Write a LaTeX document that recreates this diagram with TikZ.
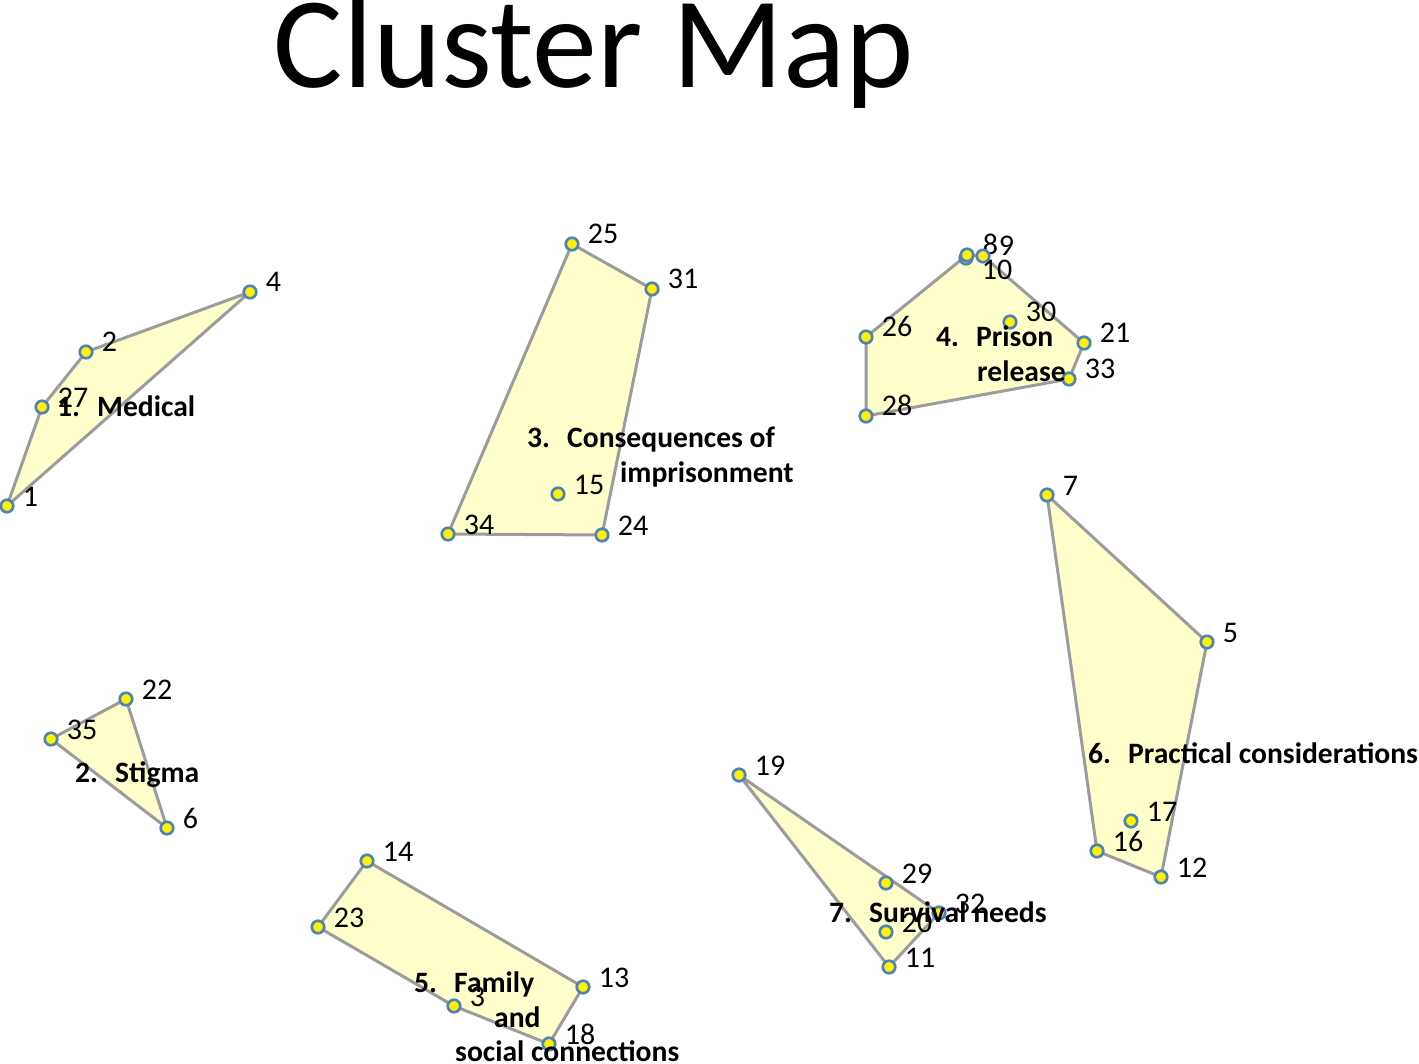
\documentclass[tikz,border=0pt]{standalone}
\usepackage{fontspec}
\setmainfont{Carlito}
\usetikzlibrary{positioning,backgrounds}
\definecolor{ptblue}{HTML}{4F81BD}
\definecolor{hullfill}{HTML}{FFFFCC}
\definecolor{hullline}{HTML}{9C9C9C}
\tikzset{
	pt/.style={circle, draw=ptblue, fill=yellow, line width=2.7pt, minimum size=12.5pt, inner sep=0pt},
	num/.style={anchor=base west, inner sep=0pt, xshift=8pt, font=\fontsize{30}{32}\selectfont},
	clab/.style={anchor=base west, inner sep=0pt, font=\bfseries\fontsize{29.6}{35}\selectfont},
	hull/.style={draw=hullline, fill=hullfill, line width=3pt, line join=round},
	title/.style={anchor=base, inner sep=0pt, font=\fontsize{130}{134}\selectfont}
}
\newcommand{\clnum}[1]{\makebox[40pt][l]{#1}}

\begin{document}
\begin{tikzpicture}[x=1pt, y=-1pt]
	\useasboundingbox (0,0) rectangle (1419,1064);
	\node[title] (title) at (594,88) {Cluster Map};

	% 1. Medical
	\node[pt, label={[num]right:1}] (p1) at (7,506) {};
	\node[pt, label={[num]right:27}] (p27) at (42,407) {};
	\node[pt, label={[num]right:2}] (p2) at (86,352) {};
	\node[pt, label={[num]right:4}] (p4) at (250,292) {};
	\node[clab] (c1) at (57,417) {\clnum{1.}Medical};

	% 2. Stigma
	\node[pt, label={[num]right:22}] (p22) at (126,699) {};
	\node[pt, label={[num]right:35}] (p35) at (51,739) {};
	\node[pt, label={[num]right:6}] (p6) at (167,828) {};
	\node[clab] (c2) at (75,782) {\clnum{2.}Stigma};

	% 3. Consequences of imprisonment
	\node[pt, label={[num]right:25}] (p25) at (572,244) {};
	\node[pt, label={[num]right:31}] (p31) at (652,289) {};
	\node[pt, label={[num]right:24}] (p24) at (602,535) {};
	\node[pt, label={[num]right:34}] (p34) at (448,534) {};
	\node[pt, label={[num]right:15}] (p15) at (558,494) {};
	\node[clab] (c3) at (527,447) {\clnum{3.}Consequences of};
	\node[clab] (c3b) at (620,482) {imprisonment};

	% 4. Prison release
	\node[pt, label={[num, yshift=-22pt]right:10}] (p10) at (966,258) {};
	\node[pt, label={[num]right:8}] (p8) at (967,255) {};
	\node[pt, label={[num]right:9}] (p9) at (983,256) {};
	\node[pt, label={[num]right:26}] (p26) at (866,337) {};
	\node[pt, label={[num]right:28}] (p28) at (866,416) {};
	\node[pt, label={[num]right:30}] (p30) at (1010,322) {};
	\node[pt, label={[num]right:21}] (p21) at (1084,343) {};
	\node[pt, label={[num]right:33}] (p33) at (1069,379) {};
	\node[clab] (c4) at (936,347) {\clnum{4.}Prison};
	\node[clab] (c4b) at (977,382) {release};

	% 5. Family and social connections
	\node[pt, label={[num]right:14}] (p14) at (367,861) {};
	\node[pt, label={[num]right:23}] (p23) at (318,927) {};
	\node[pt, label={[num]right:3}] (p3) at (454,1006) {};
	\node[pt, label={[num]right:18}] (p18) at (549,1044) {};
	\node[pt, label={[num]right:13}] (p13) at (583,987) {};
	\node[clab] (c5) at (414,992) {\clnum{5.}Family};
	\node[clab] (c5b) at (494,1027) {and};
	\node[clab] (c5c) at (455,1061) {social connections};

	% 6. Practical considerations
	\node[pt, label={[num]right:7}] (p7) at (1047,495) {};
	\node[pt, label={[num]right:5}] (p5) at (1207,642) {};
	\node[pt, label={[num]right:12}] (p12) at (1161,877) {};
	\node[pt, label={[num]right:16}] (p16) at (1097,851) {};
	\node[pt, label={[num]right:17}] (p17) at (1131,821) {};
	\node[clab] (c6) at (1088,763) {\clnum{6.}Practical considerations};

	% 7. Survival needs
	\node[pt, label={[num]right:19}] (p19) at (739,775) {};
	\node[pt, label={[num]right:29}] (p29) at (886,883) {};
	\node[pt, label={[num]right:32}] (p32) at (939,913) {};
	\node[pt, label={[num]right:20}] (p20) at (886,932) {};
	\node[pt, label={[num]right:11}] (p11) at (889,967) {};
	\node[clab] (c7) at (829,922) {\clnum{7.}Survival needs};

	\begin{pgfonlayer}{background}
		\filldraw[hull] (p1.center) -- (p27.center) -- (p2.center) -- (p4.center) -- cycle;
		\filldraw[hull] (p22.center) -- (p35.center) -- (p6.center) -- cycle;
		\filldraw[hull] (p25.center) -- (p31.center) -- (p24.center) -- (p34.center) -- cycle;
		\filldraw[hull] (p28.center) -- (p26.center) -- (p8.center) -- (p9.center) -- (p21.center) -- (p33.center) -- cycle;
		\filldraw[hull] (p14.center) -- (p23.center) -- (p3.center) -- (p18.center) -- (p13.center) -- cycle;
		\filldraw[hull] (p7.center) -- (p5.center) -- (p12.center) -- (p16.center) -- cycle;
		\filldraw[hull] (p19.center) -- (p32.center) -- (p11.center) -- cycle;
	\end{pgfonlayer}
\end{tikzpicture}
\end{document}
